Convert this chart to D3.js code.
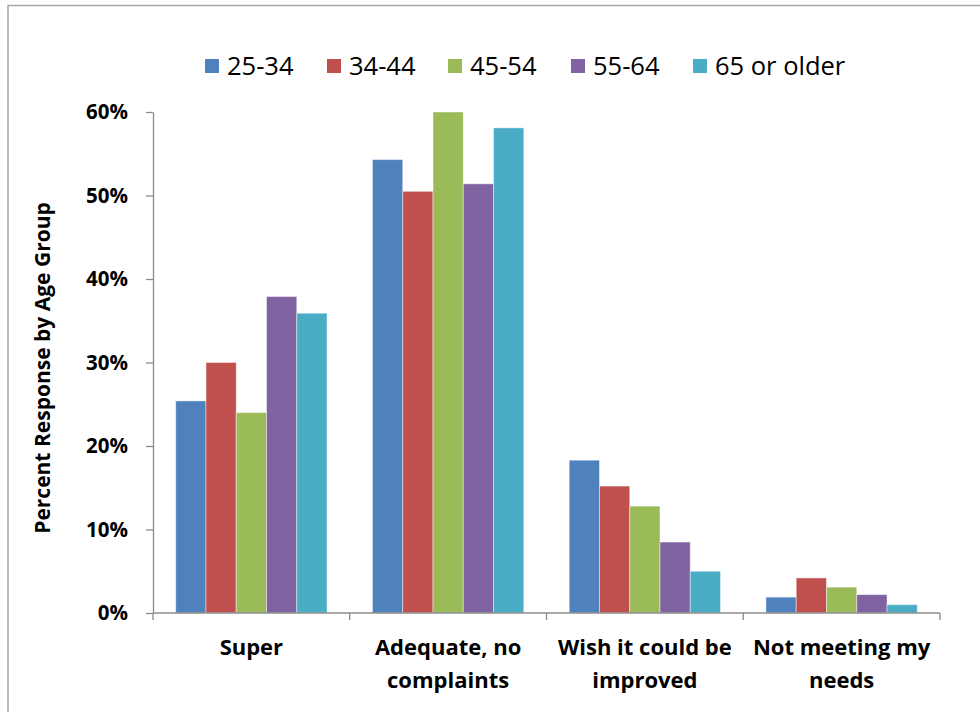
<!DOCTYPE html>
<html>
<head>
<meta charset="utf-8">
<script src="https://cdn.jsdelivr.net/npm/d3@7"></script>
<style>
  html, body { margin: 0; padding: 0; background: #fff; }
  svg { display: block; font-family: "Open Sans", Lato, sans-serif; }
</style>
</head>
<body>
<svg id="chart" width="980" height="712"></svg>
<script>
// Survey responses, share of each age group choosing each answer
const categories = [["Super"], ["Adequate, no", "complaints"], ["Wish it could be", "improved"], ["Not meeting my", "needs"]];
const ageGroups = ["25-34", "34-44", "45-54", "55-64", "65 or older"];
const age25to34 = [0.254, 0.543, 0.183, 0.019];
const age34to44 = [0.300, 0.505, 0.152, 0.042];
const age45to54 = [0.240, 0.600, 0.128, 0.031];
const age55to64 = [0.379, 0.514, 0.085, 0.022];
const age65plus = [0.359, 0.581, 0.050, 0.010];
const yTicks = [0, 0.1, 0.2, 0.3, 0.4, 0.5, 0.6];
const colors = ["#4F81BD", "#C0504D", "#9BBB59", "#8064A2", "#4BACC6"];

const seriesValues = [age25to34, age34to44, age45to54, age55to64, age65plus];
const catKeys = categories.map(c => c.join(" "));

const svg = d3.select("#chart");

// chart frame
svg.append("path")
  .attr("d", "M8,720 L8,5.5 L990,5.5")
  .attr("fill", "none").attr("stroke", "#a6a6a6").attr("stroke-width", 1.5);

const plot = { left: 153, right: 940, top: 112, bottom: 613 };

const x = d3.scaleBand().domain(catKeys).range([plot.left, plot.right]).padding(0);
const xInner = d3.scaleBand().domain(ageGroups).range([0, x.bandwidth()])
  .paddingInner(0).paddingOuter(0.75);
const y = d3.scaleLinear().domain([0, 0.6]).range([plot.bottom, plot.top]);

// y axis
const yAxis = svg.append("g")
  .attr("transform", `translate(${plot.left},0)`)
  .call(d3.axisLeft(y).tickValues(yTicks).tickFormat(d3.format(".0%")).tickSize(7).tickSizeOuter(0).tickPadding(18));
yAxis.select(".domain").attr("stroke", "#8c8c8c").attr("stroke-width", 1.3);
yAxis.selectAll(".tick line").attr("stroke", "#8c8c8c").attr("stroke-width", 1.3);
yAxis.selectAll(".tick text")
  .attr("font-size", 20.5).attr("font-weight", "bold").attr("fill", "#000")
  .attr("font-family", "'Open Sans', sans-serif");

// bars
const groups = svg.append("g").selectAll("g")
  .data(catKeys).join("g")
  .attr("transform", d => `translate(${x(d)},0)`);

groups.selectAll("rect")
  .data((d, i) => ageGroups.map((g, s) => ({ g, s, v: seriesValues[s][i] })))
  .join("rect")
  .attr("x", d => xInner(d.g))
  .attr("width", xInner.bandwidth())
  .attr("y", d => y(d.v))
  .attr("height", d => y(0) - y(d.v))
  .attr("fill", d => colors[d.s])
  .attr("stroke", "rgba(255,255,255,0.45)")
  .attr("stroke-width", 1);

// x axis line with category boundary ticks
const xAxis = svg.append("g");
xAxis.append("line")
  .attr("x1", plot.left).attr("x2", plot.right)
  .attr("y1", y(0)).attr("y2", y(0))
  .attr("stroke", "#8c8c8c").attr("stroke-width", 1.3);
const bounds = catKeys.map(k => x(k)).concat([plot.right]);
xAxis.selectAll("line.tk").data(bounds).join("line")
  .attr("class", "tk")
  .attr("x1", d => d).attr("x2", d => d)
  .attr("y1", y(0)).attr("y2", y(0) + 7)
  .attr("stroke", "#8c8c8c").attr("stroke-width", 1.3);

// category labels
const labels = svg.append("g").selectAll("text")
  .data(categories).join("text")
  .attr("x", (d, i) => x(catKeys[i]) + x.bandwidth() / 2)
  .attr("y", 655)
  .attr("text-anchor", "middle")
  .attr("font-size", 22).attr("font-weight", "bold").attr("fill", "#000");
labels.selectAll("tspan").data(d => d).join("tspan")
  .attr("x", function () { return this.parentNode.getAttribute("x"); })
  .attr("dy", (d, i) => i === 0 ? 0 : 33)
  .text(d => d);

// y axis title
svg.append("text")
  .attr("transform", "translate(50,368) rotate(-90)")
  .attr("text-anchor", "middle")
  .attr("font-size", 21).attr("font-weight", "bold").attr("fill", "#000")
  .text("Percent Response by Age Group");

// legend
const legendX = [205, 327, 448, 571, 693];
const legend = svg.append("g").selectAll("g")
  .data(ageGroups).join("g")
  .attr("transform", (d, i) => `translate(${legendX[i]},59)`);
legend.append("rect")
  .attr("width", 14).attr("height", 14)
  .attr("fill", (d, i) => colors[i]);
legend.append("text")
  .attr("x", 22).attr("y", 16)
  .attr("font-size", 25.5).attr("fill", "#000")
  .text(d => d);
</script>
</body>
</html>
